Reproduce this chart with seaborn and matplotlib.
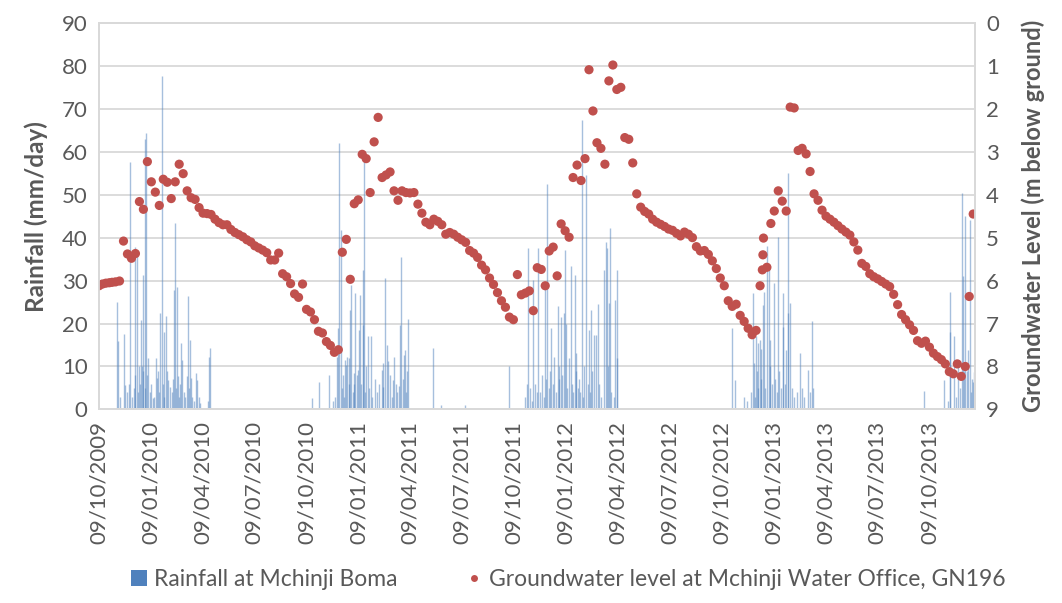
import pandas as pd
import matplotlib
import matplotlib.pyplot as plt
import seaborn as sns
from matplotlib.patches import Patch
from matplotlib.lines import Line2D

matplotlib.use('Agg')

# tick labels of the date axis (every 3 months)
x_ticks = ['09/10/2009', '09/01/2010', '09/04/2010', '09/07/2010', '09/10/2010',
           '09/01/2011', '09/04/2011', '09/07/2011', '09/10/2011', '09/01/2012',
           '09/04/2012', '09/07/2012', '09/10/2012', '09/01/2013', '09/04/2013',
           '09/07/2013', '09/10/2013']

# groundwater level, m below ground
gw_dates = [
    '2009-10-09', '2009-10-15', '2009-10-21', '2009-10-27', '2009-11-01', '2009-11-07',
    '2009-11-14', '2009-11-21', '2009-11-28', '2009-12-05', '2009-12-12', '2009-12-19',
    '2009-12-26', '2010-01-02', '2010-01-09', '2010-01-16', '2010-01-23', '2010-01-30',
    '2010-02-06', '2010-02-13', '2010-02-20', '2010-02-27', '2010-03-06', '2010-03-13',
    '2010-03-20', '2010-03-27', '2010-04-03', '2010-04-10', '2010-04-17', '2010-04-24',
    '2010-05-01', '2010-05-08', '2010-05-15', '2010-05-22', '2010-05-29', '2010-06-05',
    '2010-06-12', '2010-06-19', '2010-06-26', '2010-07-03', '2010-07-10', '2010-07-17',
    '2010-07-24', '2010-07-31', '2010-08-07', '2010-08-14', '2010-08-21', '2010-08-28',
    '2010-09-04', '2010-09-11', '2010-09-18', '2010-09-25', '2010-10-02', '2010-10-09',
    '2010-10-16', '2010-10-23', '2010-10-30', '2010-11-06', '2010-11-13', '2010-11-20',
    '2010-11-27', '2010-12-04', '2010-12-11', '2010-12-18', '2010-12-25', '2011-01-01',
    '2011-01-08', '2011-01-15', '2011-01-22', '2011-01-29', '2011-02-05', '2011-02-12',
    '2011-02-19', '2011-02-26', '2011-03-05', '2011-03-12', '2011-03-19', '2011-03-26',
    '2011-04-02', '2011-04-09', '2011-04-16', '2011-04-23', '2011-04-30', '2011-05-07',
    '2011-05-14', '2011-05-21', '2011-05-28', '2011-06-04', '2011-06-11', '2011-06-18',
    '2011-06-25', '2011-07-02', '2011-07-09', '2011-07-16', '2011-07-23', '2011-07-30',
    '2011-08-06', '2011-08-13', '2011-08-20', '2011-08-27', '2011-09-03', '2011-09-10',
    '2011-09-17', '2011-09-24', '2011-10-01', '2011-10-08', '2011-10-15', '2011-10-22',
    '2011-10-29', '2011-11-05', '2011-11-12', '2011-11-19', '2011-11-26', '2011-12-03',
    '2011-12-10', '2011-12-17', '2011-12-24', '2011-12-31', '2012-01-07', '2012-01-14',
    '2012-01-21', '2012-01-28', '2012-02-04', '2012-02-11', '2012-02-18', '2012-02-25',
    '2012-03-03', '2012-03-10', '2012-03-17', '2012-03-24', '2012-03-31', '2012-04-07',
    '2012-04-14', '2012-04-21', '2012-04-28', '2012-05-05', '2012-05-12', '2012-05-19',
    '2012-05-26', '2012-06-02', '2012-06-09', '2012-06-16', '2012-06-23', '2012-06-30',
    '2012-07-07', '2012-07-14', '2012-07-21', '2012-07-28', '2012-08-04', '2012-08-11',
    '2012-08-18', '2012-08-25', '2012-09-01', '2012-09-08', '2012-09-15', '2012-09-22',
    '2012-09-29', '2012-10-06', '2012-10-13', '2012-10-20', '2012-10-27', '2012-11-03',
    '2012-11-10', '2012-11-17', '2012-11-24', '2012-12-01', '2012-12-08', '2012-12-15',
    '2012-12-19', '2012-12-20', '2012-12-21', '2012-12-27', '2013-01-03', '2013-01-09',
    '2013-01-16', '2013-01-23', '2013-01-30', '2013-02-06', '2013-02-13', '2013-02-20',
    '2013-02-27', '2013-03-06', '2013-03-13', '2013-03-20', '2013-03-27', '2013-04-03',
    '2013-04-10', '2013-04-17', '2013-04-24', '2013-05-01', '2013-05-08', '2013-05-15',
    '2013-05-22', '2013-05-29', '2013-06-05', '2013-06-12', '2013-06-19', '2013-06-26',
    '2013-07-03', '2013-07-10', '2013-07-17', '2013-07-24', '2013-07-31', '2013-08-07',
    '2013-08-14', '2013-08-21', '2013-08-28', '2013-09-04', '2013-09-11', '2013-09-18',
    '2013-09-25', '2013-10-02', '2013-10-09', '2013-10-16', '2013-10-23', '2013-10-30',
    '2013-11-06', '2013-11-13', '2013-11-20', '2013-11-27', '2013-12-04', '2013-12-11',
    '2013-12-18', '2013-12-25',
]
gw_depth = [
    6.12, 6.08, 6.06, 6.05, 6.04, 6.03,
    6.01, 5.08, 5.38, 5.48, 5.37, 4.16,
    4.34, 3.23, 3.70, 3.94, 4.25, 3.64,
    3.71, 4.09, 3.70, 3.29, 3.51, 3.91,
    4.07, 4.11, 4.30, 4.43, 4.44, 4.46,
    4.57, 4.65, 4.70, 4.70, 4.81, 4.88,
    4.93, 4.98, 5.05, 5.10, 5.19, 5.24,
    5.29, 5.35, 5.52, 5.52, 5.36, 5.84,
    5.91, 6.07, 6.31, 6.39, 6.08, 6.67,
    6.73, 6.91, 7.18, 7.22, 7.42, 7.51,
    7.67, 7.61, 5.34, 5.04, 5.97, 4.21,
    4.12, 3.06, 3.16, 3.95, 2.77, 2.20,
    3.60, 3.54, 3.47, 3.91, 4.13, 3.91,
    3.95, 3.96, 3.95, 4.22, 4.43, 4.64,
    4.70, 4.57, 4.62, 4.70, 4.92, 4.88,
    4.92, 4.99, 5.05, 5.11, 5.30, 5.36,
    5.46, 5.64, 5.75, 5.94, 6.09, 6.28,
    6.47, 6.62, 6.85, 6.91, 5.86, 6.33,
    6.29, 6.24, 6.70, 5.70, 5.74, 6.12,
    5.31, 5.22, 5.89, 4.68, 4.84, 4.99,
    3.60, 3.31, 3.67, 3.16, 1.09, 2.05,
    2.79, 2.92, 3.29, 1.35, 0.98, 1.55,
    1.50, 2.67, 2.71, 3.26, 3.98, 4.29,
    4.39, 4.45, 4.57, 4.64, 4.69, 4.74,
    4.80, 4.83, 4.90, 4.96, 4.87, 4.92,
    5.00, 5.21, 5.31, 5.30, 5.39, 5.54,
    5.72, 5.94, 6.12, 6.47, 6.60, 6.55,
    6.81, 6.95, 7.11, 7.26, 7.16, 6.12,
    5.75, 5.40, 5.01, 5.69, 4.67, 4.38,
    3.91, 4.15, 4.38, 1.96, 1.98, 2.97,
    2.92, 3.05, 3.46, 3.98, 4.13, 4.36,
    4.50, 4.57, 4.64, 4.72, 4.80, 4.87,
    4.94, 5.10, 5.29, 5.60, 5.67, 5.84,
    5.91, 5.96, 6.02, 6.08, 6.14, 6.32,
    6.56, 6.79, 6.91, 7.03, 7.16, 7.40,
    7.46, 7.41, 7.55, 7.69, 7.77, 7.84,
    7.94, 8.12, 8.17, 7.94, 8.23, 8.00,
    6.37, 4.45,
]

# daily rainfall, mm/day (days without a value are dry)
rain_dates = [
    # 2009/10 season
    '2009-11-10', '2009-11-11', '2009-11-15', '2009-11-22', '2009-11-24', '2009-11-28',
    '2009-12-01', '2009-12-03', '2009-12-06', '2009-12-09', '2009-12-11', '2009-12-12',
    '2009-12-15', '2009-12-17', '2009-12-18', '2009-12-20', '2009-12-21', '2009-12-23',
    '2009-12-25', '2009-12-26', '2009-12-28', '2009-12-29', '2009-12-31', '2010-01-02',
    '2010-01-04', '2010-01-06', '2010-01-08', '2010-01-12', '2010-01-14', '2010-01-18',
    '2010-01-19', '2010-01-21', '2010-01-23', '2010-01-25', '2010-01-27', '2010-01-29',
    '2010-01-31', '2010-02-01', '2010-02-03', '2010-02-05', '2010-02-08', '2010-02-11',
    '2010-02-14', '2010-02-16', '2010-02-17', '2010-02-19', '2010-02-21', '2010-02-23',
    '2010-02-25', '2010-02-27', '2010-03-01', '2010-03-03', '2010-03-04', '2010-03-08',
    '2010-03-10', '2010-03-12', '2010-03-14', '2010-03-16', '2010-03-18', '2010-03-20',
    '2010-03-22', '2010-03-25', '2010-03-28', '2010-03-30', '2010-04-02', '2010-04-05',
    '2010-04-19', '2010-04-21', '2010-04-23',
    # 2010/11 season
    '2010-10-18', '2010-10-31', '2010-11-18', '2010-11-25', '2010-11-29', '2010-12-02',
    '2010-12-04', '2010-12-06', '2010-12-08', '2010-12-10', '2010-12-12', '2010-12-14',
    '2010-12-16', '2010-12-17', '2010-12-20', '2010-12-22', '2010-12-23', '2010-12-25',
    '2010-12-27', '2010-12-29', '2010-12-31', '2011-01-01', '2011-01-03', '2011-01-05',
    '2011-01-07', '2011-01-10', '2011-01-11', '2011-01-13', '2011-01-16', '2011-01-17',
    '2011-01-18', '2011-01-20', '2011-01-22', '2011-01-25', '2011-01-27', '2011-01-30',
    '2011-02-02', '2011-02-07', '2011-02-10', '2011-02-14', '2011-02-18', '2011-02-20',
    '2011-02-21', '2011-02-24', '2011-02-27', '2011-03-01', '2011-03-05', '2011-03-08',
    '2011-03-10', '2011-03-12', '2011-03-15', '2011-03-18', '2011-03-20', '2011-03-22',
    '2011-03-24', '2011-03-27', '2011-03-29', '2011-03-31', '2011-04-02', '2011-04-04',
    '2011-04-06', '2011-05-20', '2011-06-02', '2011-07-15',
    # 2011/12 season
    '2011-09-30', '2011-10-28', '2011-11-01', '2011-11-03', '2011-11-06', '2011-11-09',
    '2011-11-12', '2011-11-15', '2011-11-18', '2011-11-20', '2011-11-24', '2011-11-27',
    '2011-11-30', '2011-12-02', '2011-12-04', '2011-12-06', '2011-12-09', '2011-12-11',
    '2011-12-14', '2011-12-17', '2011-12-19', '2011-12-22', '2011-12-25', '2011-12-27',
    '2011-12-28', '2011-12-30', '2012-01-02', '2012-01-05', '2012-01-07', '2012-01-09',
    '2012-01-10', '2012-01-13', '2012-01-17', '2012-01-19', '2012-01-21', '2012-01-24',
    '2012-01-26', '2012-01-27', '2012-01-29', '2012-02-01', '2012-02-03', '2012-02-05',
    '2012-02-08', '2012-02-10', '2012-02-13', '2012-02-16', '2012-02-18', '2012-02-20',
    '2012-02-21', '2012-02-23', '2012-02-27', '2012-03-01', '2012-03-04', '2012-03-07',
    '2012-03-10', '2012-03-15', '2012-03-19', '2012-03-21', '2012-03-23', '2012-03-24',
    '2012-03-26', '2012-03-28', '2012-04-02', '2012-04-04', '2012-04-07', '2012-04-08',
    # 2012/13 season
    '2012-10-26', '2012-11-01', '2012-11-16', '2012-11-22', '2012-11-29', '2012-12-02',
    '2012-12-04', '2012-12-06', '2012-12-08', '2012-12-10', '2012-12-11', '2012-12-12',
    '2012-12-14', '2012-12-16', '2012-12-17', '2012-12-20', '2012-12-22', '2012-12-24',
    '2012-12-27', '2012-12-30', '2013-01-01', '2013-01-02', '2013-01-05', '2013-01-08',
    '2013-01-11', '2013-01-13', '2013-01-15', '2013-01-18', '2013-01-20', '2013-01-24',
    '2013-01-25', '2013-01-28', '2013-01-30', '2013-02-02', '2013-02-03', '2013-02-06',
    '2013-02-09', '2013-02-12', '2013-02-18', '2013-02-23', '2013-02-26', '2013-03-02',
    '2013-03-09', '2013-03-12', '2013-03-16', '2013-03-18',
    # 2013/14 season
    '2013-09-30', '2013-11-03', '2013-11-10', '2013-11-14', '2013-11-15', '2013-11-21',
    '2013-11-25', '2013-11-28', '2013-12-02', '2013-12-05', '2013-12-07', '2013-12-09',
    '2013-12-11', '2013-12-14', '2013-12-16', '2013-12-19', '2013-12-21', '2013-12-22',
    '2013-12-24', '2013-12-26',
]
rain_mm = [
    # 2009/10 season
    25.0, 16.0, 3.0, 17.5, 5.7, 4.0,
    6.0, 57.7, 3.0, 5.0, 8.0, 37.8,
    36.7, 4.0, 10.0, 6.0, 20.9, 10.0,
    9.0, 31.3, 5.0, 63.0, 64.3, 8.0,
    12.0, 4.0, 6.0, 2.6, 3.0, 12.0,
    7.3, 9.0, 4.0, 22.4, 77.6, 6.0,
    18.1, 3.0, 21.8, 9.0, 6.9, 5.3,
    4.0, 7.0, 27.8, 43.3, 5.0, 28.6,
    7.7, 3.0, 6.0, 15.4, 11.5, 4.0,
    3.0, 7.7, 26.5, 5.0, 16.2, 7.3,
    3.0, 2.0, 8.4, 6.8, 3.0, 1.5,
    2.0, 12.2, 14.3,
    # 2010/11 season
    2.6, 6.3, 8.0, 2.0, 3.0, 12.3,
    19.0, 62.0, 41.8, 5.0, 8.0, 3.0,
    11.5, 10.4, 12.3, 6.0, 12.0, 23.2,
    29.0, 4.0, 6.0, 8.4, 27.0, 8.0,
    9.2, 18.5, 26.7, 6.0, 19.7, 32.5,
    59.2, 4.0, 10.0, 17.1, 5.0, 17.0,
    3.0, 7.0, 4.0, 6.0, 9.2, 5.3,
    10.8, 30.5, 15.0, 11.2, 8.0, 3.0,
    6.9, 12.3, 6.0, 4.0, 5.5, 19.7,
    35.6, 7.0, 12.7, 13.9, 4.0, 9.0,
    21.0, 14.3, 1.0, 1.0,
    # 2011/12 season
    10.0, 3.0, 6.0, 37.5, 5.0, 2.0,
    30.2, 6.0, 4.0, 37.5, 4.0, 8.0,
    3.0, 29.0, 7.0, 52.6, 5.0, 9.0,
    19.0, 6.0, 12.3, 4.0, 24.0, 7.0,
    10.0, 21.6, 8.0, 22.4, 37.1, 20.0,
    5.0, 12.0, 33.3, 6.0, 4.0, 31.3,
    13.1, 9.0, 5.0, 7.0, 4.0, 67.4,
    3.0, 10.0, 54.6, 6.0, 18.5, 4.0,
    23.2, 9.0, 17.4, 17.4, 24.6, 6.0,
    3.0, 32.5, 39.1, 37.5, 10.0, 24.7,
    42.2, 4.0, 3.0, 25.5, 32.5, 12.0,
    # 2012/13 season
    19.0, 6.9, 3.0, 2.0, 4.0, 27.0,
    10.8, 3.0, 17.0, 9.0, 15.4, 5.0,
    16.2, 7.0, 14.0, 24.3, 27.4, 5.0,
    38.0, 32.9, 16.2, 10.0, 6.0, 29.4,
    7.0, 4.0, 40.2, 9.0, 5.0, 27.0,
    19.3, 6.0, 13.9, 22.4, 55.0, 24.7,
    5.0, 3.0, 4.0, 13.1, 5.0, 3.0,
    9.2, 4.0, 20.5, 5.0,
    # 2013/14 season
    4.2, 6.9, 2.0, 27.4, 18.1, 17.0,
    3.0, 10.0, 5.0, 50.5, 31.0, 9.0,
    45.0, 9.0, 13.9, 44.0, 4.0, 7.0,
    6.5, 8.8,
]

sns.set_theme(style="white")
plt.rcParams['font.family'] = ['Lato', 'DejaVu Sans']

text_col = '#595959'
grid_col = '#D9D9D9'
bar_col = '#4F81BD'
dot_col = '#C0504D'

rain = pd.DataFrame({'date': pd.to_datetime(rain_dates), 'mm': rain_mm})
gw = pd.DataFrame({'date': pd.to_datetime(gw_dates), 'depth': gw_depth})
tick_pos = pd.to_datetime(x_ticks, format='%d/%m/%Y')

fig, ax = plt.subplots(figsize=(10.62, 6.03), dpi=100)
fig.subplots_adjust(left=0.093, right=0.918, bottom=0.321, top=0.962)

# rainfall bars on the left axis (one day wide -> hairlines)
ax.vlines(rain['date'], 0, rain['mm'], color=bar_col, alpha=0.5, linewidth=1.0)
ax.set_ylim(0, 90)
ax.set_yticks(range(0, 91, 10))
ax.set_xlim(pd.Timestamp('2009-10-08 12:00'), pd.Timestamp('2013-12-28'))
ax.set_xticks(tick_pos)
ax.set_xticklabels(x_ticks, rotation=90)
ax.grid(axis='y', color=grid_col, linewidth=1.3)
ax.set_axisbelow(True)
ax.set_ylabel('Rainfall (mm/day)', fontsize=17.5, fontweight='bold', color=text_col, labelpad=10)

# groundwater level on the right axis (inverted)
ax2 = ax.twinx()
sns.scatterplot(data=gw, x='date', y='depth', ax=ax2, color=dot_col, s=44,
                edgecolor='none', legend=False)
ax2.set_ylim(9, 0)
ax2.set_yticks(range(0, 10))
ax2.grid(False)
ax2.set_xlabel('')
ax2.set_ylabel('Groundwater Level (m below ground)', fontsize=17, fontweight='bold',
               color=text_col, labelpad=16)

for a in (ax, ax2):
    a.tick_params(axis='both', length=0, labelsize=16, labelcolor=text_col, pad=8)
    for s in a.spines.values():
        s.set_color(grid_col)
        s.set_linewidth(1.3)
ax.set_xlabel('')

handles = [Patch(facecolor=bar_col, edgecolor='none'),
           Line2D([], [], marker='o', linestyle='none', markersize=5,
                  markerfacecolor=dot_col, markeredgecolor='none')]
labels = ['Rainfall at Mchinji Boma', 'Groundwater level at Mchinji Water Office, GN196']
fig.legend(handles, labels, loc='lower center', ncol=2, frameon=False,
           fontsize=16.5, labelcolor=text_col, bbox_to_anchor=(0.535, -0.012),
           handlelength=0.7, handletextpad=0.3, columnspacing=3.0)

fig.savefig('out.png', dpi=100)
